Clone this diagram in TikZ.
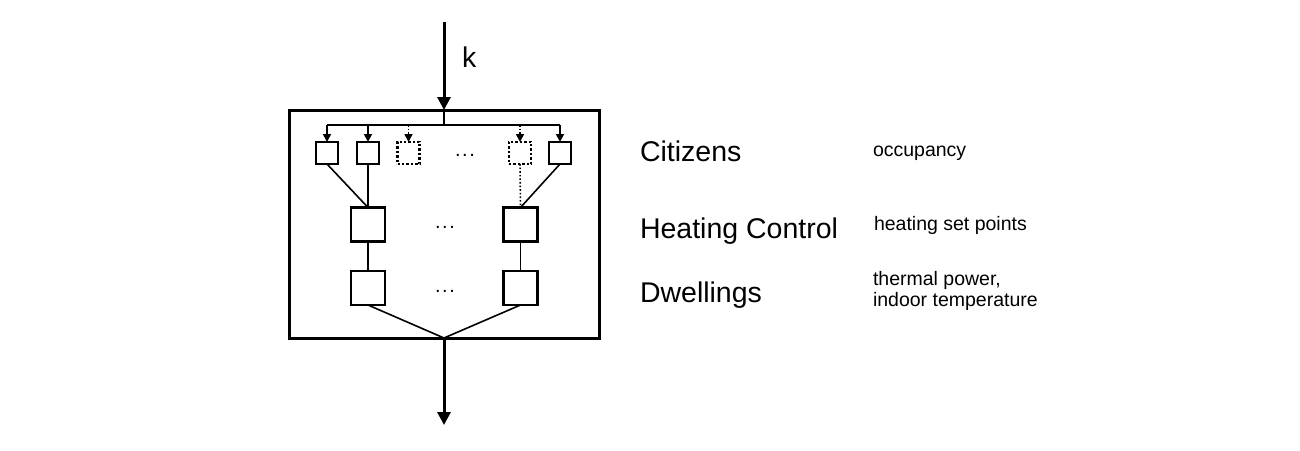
\documentclass[tikz,border=0pt]{standalone}
\usepackage{fontspec}
\setmainfont{Liberation Sans}
\usetikzlibrary{arrows.meta}
\begin{document}
\begin{tikzpicture}[x=1pt,y=-1pt,
  every node/.style={outer sep=0pt},
  outerbox/.style={draw,line width=3pt,minimum width=310pt,minimum height=228pt,inner sep=0pt},
  citbox/.style={draw,line width=2.4pt,minimum size=22pt,inner sep=0pt},
  bigbox/.style={draw,line width=2.4pt,minimum size=34pt,inner sep=0pt},
  ghost/.style={citbox,dotted},
  thin/.style={line width=1.6pt},
  bigarrow/.style={line width=3pt,-{Triangle[length=13pt,width=13pt]}},
  smallarrow/.style={line width=1.6pt,-{Triangle[length=8pt,width=8pt]}},
  layer/.style={font=\fontsize{28.5}{30}\selectfont,anchor=base west,inner sep=0pt},
  info/.style={font=\fontsize{19.5}{21}\selectfont,anchor=base west,inner sep=0pt,align=left},
  dots/.style={font=\fontsize{20}{20}\selectfont,inner sep=0pt}
]
\useasboundingbox (0,0) rectangle (1300,450);
\node[outerbox] (outer) at (444,224) {};
\coordinate (topin) at (444,22);
\coordinate (split) at (444,125);
\coordinate (outp) at (444,425);

\node[citbox] (c1) at (327,153) {};
\node[citbox] (c2) at (368,153) {};
\node[ghost] (c3) at (408.5,153) {};
\node[ghost] (c4) at (520,153) {};
\node[citbox] (c5) at (560,153) {};
\node[dots] (cd) at (465,155) {.\hspace{1.5pt}.\hspace{1.5pt}.};

\node[bigbox] (h1) at (368,224.5) {};
\node[bigbox] (h2) at (520.5,224.5) {};
\node[dots] (hd) at (445,227) {.\hspace{1.5pt}.\hspace{1.5pt}.};

\node[bigbox] (d1) at (368,288) {};
\node[bigbox] (d2) at (520.5,288) {};
\node[dots] (dd) at (445,291) {.\hspace{1.5pt}.\hspace{1.5pt}.};

\draw[bigarrow] (topin) -- (outer.north);
\node[font=\fontsize{28.5}{30}\selectfont,anchor=base west,inner sep=0pt] (k) at (462,67) {k};
\draw[bigarrow] (outer.south) -- (outp);

\draw[thin] (outer.north) -- (split);
\draw[thin] (c1.north |- split) -- (c5.north |- split);
\draw[smallarrow] (c1.north |- split) -- (c1.north);
\draw[smallarrow] (c2.north |- split) -- (c2.north);
\draw[smallarrow,dotted] (c3.north |- split) -- (c3.north);
\draw[smallarrow,dotted] (c4.north |- split) -- (c4.north);
\draw[smallarrow] (c5.north |- split) -- (c5.north);

\draw[thin] (c1.south) -- (h1.north);
\draw[thin] (c2.south) -- (h1.north);
\draw[thin,dotted] (c4.south) -- (h2.north);
\draw[thin] (c5.south) -- (h2.north);

\draw[thin] (h1.south) -- (d1.north);
\draw[thin] (h2.south) -- (d2.north);

\draw[thin] (d1.south) -- (outer.south);
\draw[thin] (d2.south) -- (outer.south);

\node[layer] (lc) at (640,161) {Citizens};
\node[layer] (lh) at (640,238.5) {Heating Control};
\node[layer] (ld) at (640,302) {Dwellings};

\node[info] (ic) at (873,156) {occupancy};
\node[info] (ih) at (874,230) {heating set points};
\node[info] (id1) at (873,285) {thermal power,};
\node[info] (id2) at (873,306) {indoor temperature};
\end{tikzpicture}
\end{document}
